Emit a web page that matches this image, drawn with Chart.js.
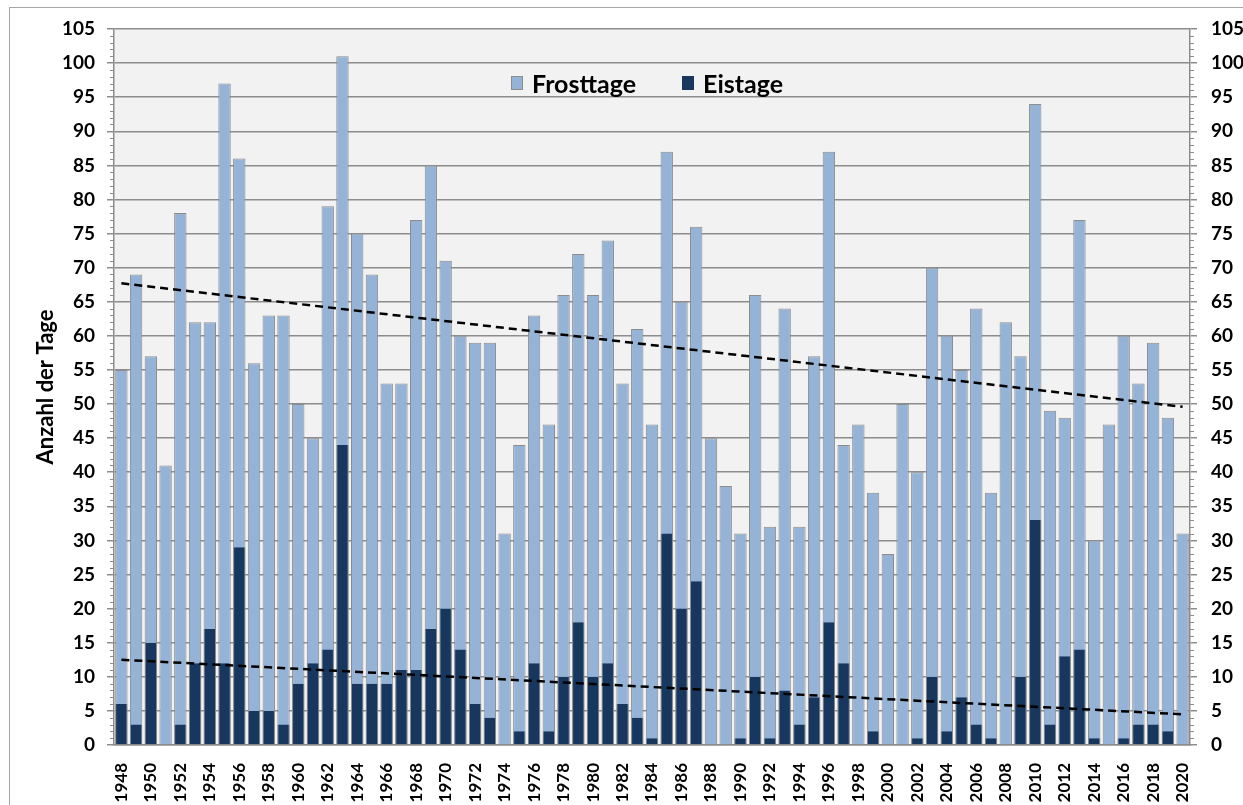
<!DOCTYPE html>
<html lang="de">
<head>
<meta charset="utf-8">
<title>Frosttage und Eistage</title>
<script src="https://cdn.jsdelivr.net/npm/chart.js@4.4.1/dist/chart.umd.min.js"></script>
<style>
    body { margin: 0; background: #ffffff; }
    #wrap { position: relative; width: 1243px; height: 805px; }
    #legend {
        position: absolute; top: 68px; left: 511px;
        display: flex; align-items: center;
        font: 700 25px Lato, sans-serif; line-height: 30px; color: #000;
    }
    #legend .box { display: inline-block; width: 12px; height: 14px; box-sizing: border-box; }
    #legend .txt { margin-left: 9px; }
    #legend .item + .item { margin-left: 46px; }
    #legend .item { display: flex; align-items: center; }
</style>
</head>
<body>
<div id="wrap">
    <canvas id="frostChart"></canvas>
    <div id="legend"></div>
</div>
<script>
// Jahre 1948-2020
const years = [];
for (let y = 1948; y <= 2020; y++) years.push(String(y));

const frosttage = [
    55, 69, 57, 41, 78, 62, 62, 97, 86, 56,
    63, 63, 50, 45, 79, 101, 75, 69, 53, 53,
    77, 85, 71, 60, 59, 59, 31, 44, 63, 47,
    66, 72, 66, 74, 53, 61, 47, 87, 65, 76,
    45, 38, 31, 66, 32, 64, 32, 57, 87, 44,
    47, 37, 28, 50, 40, 70, 60, 55, 64, 37,
    62, 57, 94, 49, 48, 77, 30, 47, 60, 53,
    59, 48, 31
];

const eistage = [
    6, 3, 15, 0, 3, 12, 17, 12, 29, 5,
    5, 3, 9, 12, 14, 44, 9, 9, 9, 11,
    11, 17, 20, 14, 6, 4, 0, 2, 12, 2,
    10, 18, 10, 12, 6, 4, 1, 31, 20, 24,
    0, 0, 1, 10, 1, 8, 3, 7, 18, 12,
    0, 2, 0, 0, 1, 10, 2, 7, 3, 1,
    0, 10, 33, 3, 13, 14, 1, 0, 1, 3,
    3, 2, 0
];

// Linearer Trend, Endpunkte
const trendFrostEnds = [67.7, 49.6];
const trendEisEnds = [12.5, 4.5];

const yTicks = { min: 0, max: 105, step: 5 };

const gridGray = '#8c8c8c';
const frostColor = '#95b3d7';
const eisColor = '#17375e';

// Hintergrund der Zeichenfläche und Rahmen
const backgroundPlugin = {
    id: 'background',
    beforeDraw(chart) {
        const { ctx, chartArea } = chart;
        ctx.save();
        ctx.strokeStyle = '#a6a6a6';
        ctx.lineWidth = 1;
        ctx.strokeRect(9.5, 7.5, 1300, 900);
        ctx.fillStyle = '#f2f2f2';
        ctx.fillRect(chartArea.left, chartArea.top, chartArea.right - chartArea.left, chartArea.bottom - chartArea.top);
        ctx.restore();
    }
};

// Kleine Zwischenstriche an beiden y-Achsen
const minorTicksPlugin = {
    id: 'minorTicks',
    afterDraw(chart) {
        const { ctx } = chart;
        ctx.save();
        ctx.strokeStyle = gridGray;
        ctx.lineWidth = 1;
        ['y', 'y2'].forEach(id => {
            const scale = chart.scales[id];
            const x = id === 'y' ? scale.right : scale.left;
            const dir = id === 'y' ? -1 : 1;
            for (let v = yTicks.min; v <= yTicks.max; v++) {
                if (v % yTicks.step === 0) continue;
                const py = Math.round(scale.getPixelForValue(v)) + 0.5;
                ctx.beginPath();
                ctx.moveTo(x, py);
                ctx.lineTo(x + dir * 4, py);
                ctx.stroke();
            }
        });
        ctx.restore();
    }
};

const tickFont = { family: 'Lato', weight: 700, size: 19 };

const chart = new Chart(document.getElementById('frostChart'), {
    type: 'bar',
    data: {
        labels: years,
        datasets: [
            {
                label: 'Frosttage',
                data: frosttage,
                backgroundColor: frostColor,
                borderColor: gridGray,
                borderWidth: 1,
                borderSkipped: 'bottom',
                grouped: false,
                barPercentage: 0.84,
                categoryPercentage: 1,
                order: 2
            },
            {
                label: 'Eistage',
                data: eistage,
                backgroundColor: eisColor,
                borderColor: gridGray,
                borderWidth: { left: 1, right: 1, top: 0, bottom: 0 },
                grouped: false,
                barPercentage: 0.84,
                categoryPercentage: 1,
                order: 1
            },
            {
                type: 'line',
                label: 'Trend Frosttage',
                data: [
                    { x: years[0], y: trendFrostEnds[0] },
                    { x: years[years.length - 1], y: trendFrostEnds[1] }
                ],
                borderColor: '#000000',
                borderWidth: 2.5,
                borderDash: [8, 5],
                pointRadius: 0,
                fill: false,
                order: 0
            },
            {
                type: 'line',
                label: 'Trend Eistage',
                data: [
                    { x: years[0], y: trendEisEnds[0] },
                    { x: years[years.length - 1], y: trendEisEnds[1] }
                ],
                borderColor: '#000000',
                borderWidth: 2.5,
                borderDash: [8, 5],
                pointRadius: 0,
                fill: false,
                order: 0
            }
        ]
    },
    options: {
        responsive: true,
        maintainAspectRatio: false,
        animation: false,
        layout: { padding: { top: 29, left: 0, right: 0, bottom: 0 } },
        plugins: {
            legend: { display: false },
            tooltip: { enabled: false }
        },
        scales: {
            x: {
                offset: true,
                grid: { display: false },
                border: { color: gridGray, width: 1.5 },
                ticks: {
                    autoSkip: false,
                    minRotation: 90,
                    maxRotation: 90,
                    padding: 10,
                    color: '#000',
                    font: { family: 'Lato', weight: 700, size: 17 },
                    callback: function (val, i) {
                        return i % 2 === 0 ? this.getLabelForValue(val) : '';
                    }
                },
                afterFit: scale => { scale.height = 60; }
            },
            y: {
                position: 'left',
                min: yTicks.min,
                max: yTicks.max,
                ticks: { stepSize: yTicks.step, padding: 12, color: '#000', font: tickFont },
                grid: { color: gridGray, lineWidth: 1.5, tickLength: 7, tickColor: gridGray },
                border: { color: gridGray, width: 1.5 },
                title: {
                    display: true,
                    text: 'Anzahl der Tage',
                    color: '#000',
                    font: { family: 'Lato', weight: 700, size: 22 },
                    padding: { top: 33, bottom: 0 }
                },
                afterFit: scale => { scale.width = 114; }
            },
            y2: {
                position: 'right',
                min: yTicks.min,
                max: yTicks.max,
                ticks: { stepSize: yTicks.step, padding: 14, color: '#000', font: tickFont },
                grid: { drawOnChartArea: false, tickLength: 7, tickColor: gridGray, lineWidth: 1.5 },
                border: { color: gridGray, width: 1.5 },
                afterFit: scale => { scale.width = 53; }
            }
        }
    },
    plugins: [backgroundPlugin, minorTicksPlugin]
});

// Legende aus den Balken-Datensätzen
const legendEl = document.getElementById('legend');
legendEl.innerHTML = chart.data.datasets
    .filter(ds => ds.type !== 'line')
    .map(ds => `
        <span class="item">
            <span class="box" style="background:${ds.backgroundColor};border:1px solid ${ds.label === 'Frosttage' ? gridGray : ds.backgroundColor}"></span>
            <span class="txt">${ds.label}</span>
        </span>
    `).join('');
</script>
</body>
</html>
